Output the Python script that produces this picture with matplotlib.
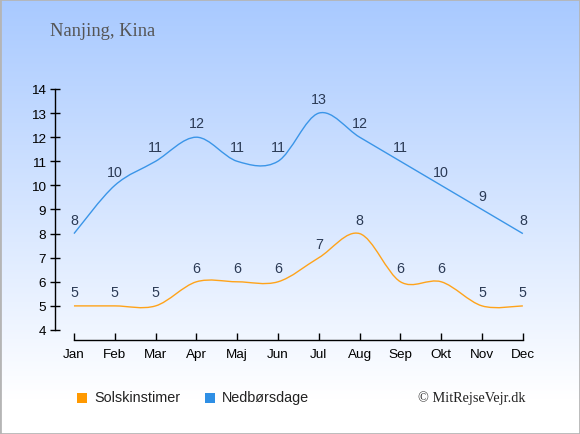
import numpy as np
import matplotlib
matplotlib.use("Agg")
from matplotlib import pyplot as plt
from matplotlib.path import Path
from matplotlib.patches import PathPatch, Rectangle

months = ["Jan", "Feb", "Mar", "Apr", "Maj", "Jun", "Jul", "Aug", "Sep", "Okt", "Nov", "Dec"]
sun_hours = [5, 5, 5, 6, 6, 6, 7, 8, 6, 6, 5, 5]
rain_days = [8, 10, 11, 12, 11, 11, 13, 12, 11, 10, 9, 8]
y_ticks = list(range(4, 15))

title = "Nanjing, Kina"
sun_label = "Solskinstimer"
rain_label = "Nedbørsdage"
credit = "© MitRejseVejr.dk"

sun_color = "#ffa31a"
rain_color = "#3a95e8"
label_color = "#2b3a55"


def smooth_path(xs, ys):
    # catmull-rom segments turned into cubic beziers
    pts = np.column_stack([xs, ys]).astype(float)
    verts = [pts[0]]
    codes = [Path.MOVETO]
    n = len(pts)
    for i in range(n - 1):
        p0 = pts[max(i - 1, 0)]
        p1 = pts[i]
        p2 = pts[i + 1]
        p3 = pts[min(i + 2, n - 1)]
        c1 = p1 + (p2 - p0) / 6
        c2 = p2 - (p3 - p1) / 6
        verts += [c1, c2, p2]
        codes += [Path.CURVE4] * 3
    return Path(verts, codes)


fig = plt.figure(figsize=(5.8, 4.35), dpi=100)

# background gradient
bg = fig.add_axes([0, 0, 1, 1], zorder=-10)
grad = np.linspace(0, 1, 256).reshape(-1, 1)
top = np.array([0.66, 0.79, 1.0])
white = np.array([1.0, 1.0, 1.0])
frac = np.clip(grad / 0.92, 0, 1)
img = top * (1 - frac[..., None]) + white * frac[..., None]
bg.imshow(img, aspect="auto", extent=[0, 1, 0, 1], origin="upper")
bg.add_patch(Rectangle((0, 0), 1, 1, fill=False, edgecolor="#b5b5b5", lw=2,
                       transform=bg.transAxes))
bg.set_axis_off()

ax = fig.add_axes([55 / 580, 1 - 341 / 435, 485 / 580, 251 / 435])
ax.patch.set_alpha(0)
x = np.arange(len(months))

for vals, col in [(sun_hours, sun_color), (rain_days, rain_color)]:
    ax.add_patch(PathPatch(smooth_path(x, vals), fill=False, edgecolor=col, lw=1.0))
    for xi, v in zip(x, vals):
        ax.annotate(str(v), (xi, v), textcoords="offset points", xytext=(0, 10),
                    ha="center", va="center", fontsize=10.3, color=label_color,
                    family="Liberation Sans")

ax.set_xlim(-0.465, 11.42)
ax.set_ylim(3.585, 14)
ax.set_xticks(x, months)
ax.set_yticks(y_ticks)
ax.spines[["top", "right"]].set_visible(False)
ax.spines["left"].set_bounds(4, 14)
ax.spines["bottom"].set_bounds(0, 11)
for s in ["left", "bottom"]:
    ax.spines[s].set_linewidth(1.0)
ax.tick_params(axis="x", direction="in", length=5, width=1, pad=6, labelsize=9.7)
ax.tick_params(axis="y", direction="inout", length=7, width=1, pad=3, labelsize=9.7)
for lab in ax.get_xticklabels() + ax.get_yticklabels():
    lab.set_family("Liberation Sans")

fig.text(50 / 580, 1 - 32 / 435, title, family="Liberation Serif", fontsize=13.3,
         color="#555555", va="center")

# legend
for xp, col, txt in [(77, "#ff9900", sun_label), (205, "#2f8fe5", rain_label)]:
    fig.patches.append(Rectangle((xp / 580, 1 - 404 / 435), 10 / 580, 10 / 435,
                                 transform=fig.transFigure, facecolor=col,
                                 edgecolor="none"))
    fig.text((xp + 17) / 580, 1 - 398 / 435, txt, family="Liberation Sans",
             fontsize=10.4, color="#222222", va="center")

fig.text(418 / 580, 1 - 398 / 435, credit, family="Liberation Serif", fontsize=10.3,
         color="#222222", va="center")

fig.savefig("out.png", dpi=100)
